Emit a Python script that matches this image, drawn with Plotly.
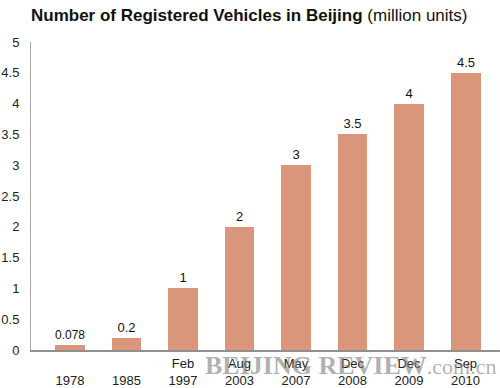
import plotly.graph_objects as go

categories = ["1978", "1985", "Feb 1997", "Aug 2003", "May 2007", "Dec 2008", "Dec 2009", "Sep 2010"]
tick_labels = [" <br>1978", " <br>1985", "Feb<br>1997", "Aug<br>2003", "May<br>2007", "Dec<br>2008", "Dec<br>2009", "Sep<br>2010"]
values = [0.078, 0.2, 1, 2, 3, 3.5, 4, 4.5]
value_labels = ["0.078", "0.2", "1", "2", "3", "3.5", "4", "4.5"]
y_ticks = [0, 0.5, 1, 1.5, 2, 2.5, 3, 3.5, 4, 4.5, 5]
y_tick_text = ["0", "0.5", "1", "1.5", "2", "2.5", "3", "3.5", "4", "4.5", "5"]

FONT = "Liberation Sans, Arial, Helvetica, sans-serif"

fig = go.Figure()
fig.add_trace(go.Bar(
    x=list(range(len(categories))),
    y=values,
    width=0.53,
    marker=dict(color="#D9967A", line=dict(width=0)),
    text=value_labels,
    textposition="outside",
    textfont=dict(family=FONT, size=13, color="#111111"),
    cliponaxis=False,
))

fig.update_layout(
    width=500, height=388,
    margin=dict(l=31, r=0, t=42, b=38, autoexpand=False),
    paper_bgcolor="white", plot_bgcolor="white",
    showlegend=False,
    bargap=0,
    font=dict(family=FONT, size=13, color="#222222"),
    xaxis=dict(
        range=[-0.69, 7.61],
        tickmode="array", tickvals=list(range(len(categories))), ticktext=tick_labels,
        showgrid=False, zeroline=False,
        showline=True, linecolor="#8f8f8f", linewidth=2,
        ticks="", automargin=False,
        tickfont=dict(family=FONT, size=13, color="#222222"),
    ),
    yaxis=dict(
        range=[0, 5],
        tickmode="array", tickvals=y_ticks, ticktext=y_tick_text,
        showgrid=False, zeroline=False,
        showline=True, linecolor="#a8a8a8", linewidth=1,
        ticks="", ticklabelstandoff=8, automargin=False,
        tickfont=dict(family=FONT, size=13, color="#222222"),
    ),
)

fig.add_annotation(
    text="<b>Number of Registered Vehicles in Beijing</b> (million units)",
    x=(29 - 31) / 469, y=1 + (42 - 15) / 308, xref="paper", yref="paper",
    showarrow=False, xanchor="left", yanchor="middle",
    font=dict(family=FONT, size=17, color="#111111"),
)

fig.add_annotation(
    text="<b>BEIJING REVIEW</b><span style='font-size:22px'>.com.cn</span>",
    x=(203 - 31) / 469, y=-(365 - 350) / 308, xref="paper", yref="paper",
    showarrow=False, xanchor="left", yanchor="middle",
    font=dict(family="Liberation Serif, Times New Roman, serif", size=26, color="rgba(125,125,125,0.6)"),
)

fig.write_html("out.html", config={"displayModeBar": False})

with open("out.html", "r", encoding="utf-8") as f:
    html = f.read()
html = html.replace("<head>", "<head><style>html,body{margin:0;padding:0;overflow:hidden;}</style>", 1)
with open("out.html", "w", encoding="utf-8") as f:
    f.write(html)
